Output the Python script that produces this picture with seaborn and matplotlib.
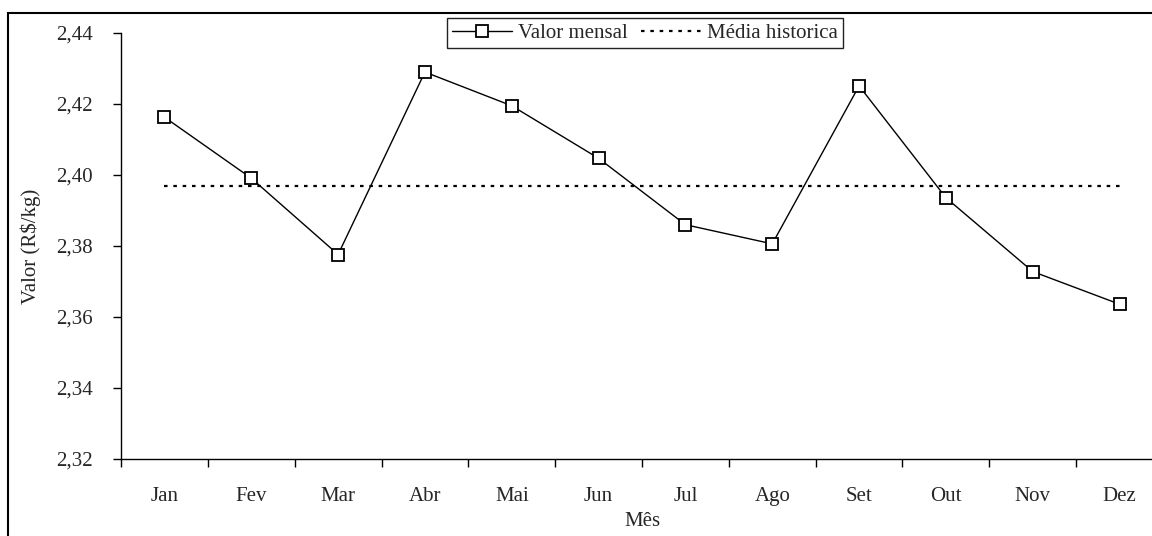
import numpy as np
import pandas as pd
import matplotlib
matplotlib.use("Agg")
import matplotlib.pyplot as plt
from matplotlib.patches import Rectangle
from matplotlib.ticker import FixedLocator, FuncFormatter
import seaborn as sns

# ---- data ----
meses = ["Jan", "Fev", "Mar", "Abr", "Mai", "Jun", "Jul", "Ago", "Set", "Out", "Nov", "Dez"]
valor_mensal = [2.4163, 2.3991, 2.3776, 2.4290, 2.4195, 2.4047, 2.3860, 2.3806,
                2.4251, 2.3936, 2.3728, 2.3636]
media_historica = 2.3969
y_ticks = [2.32, 2.34, 2.36, 2.38, 2.40, 2.42, 2.44]

sns.set_style("ticks")
plt.rcParams["font.family"] = ["Liberation Serif", "DejaVu Serif"]
plt.rcParams["font.size"] = 15

W, H = 1152, 536
fig = plt.figure(figsize=(W / 100, H / 100), dpi=100)
ax = fig.add_axes([121 / W, 1 - 459 / H, (1163 - 121) / W, (459 - 33) / H])

pos = np.arange(len(meses))
df = pd.DataFrame({"pos": pos, "valor": valor_mensal,
                   "media": [media_historica] * len(meses)})

sns.lineplot(data=df, x="pos", y="valor", ax=ax, color="black", lw=1.0,
             marker="s", markersize=8, markerfacecolor="white",
             markeredgecolor="black", markeredgewidth=1.3,
             label="Valor mensal")
sns.lineplot(data=df, x="pos", y="media", ax=ax, color="black", lw=1.6,
             linestyle=(0, (1.6, 2.6)), label="Média historica")

ax.set_ylim(2.32, 2.44)
ax.set_xlim(-0.5, len(meses) - 0.5)
ax.set_yticks(y_ticks)
ax.yaxis.set_major_formatter(FuncFormatter(lambda v, p: f"{v:.2f}".replace(".", ",")))

# ticks at category boundaries, labels at category centres
ax.xaxis.set_major_locator(FixedLocator(np.arange(-0.5, len(meses), 1.0)))
ax.xaxis.set_major_formatter(FuncFormatter(lambda v, p: ""))
ax.xaxis.set_minor_locator(FixedLocator(pos))
ax.set_xticks(pos, labels=meses, minor=True)
ax.tick_params(axis="x", which="major", length=6, width=1, direction="out", color="black")
ax.tick_params(axis="x", which="minor", length=0, pad=20, labelsize=15)
ax.tick_params(axis="y", length=6, width=1, direction="out", pad=14, labelsize=15, color="black")

for s in ["top", "right"]:
    ax.spines[s].set_visible(False)
for s in ["left", "bottom"]:
    ax.spines[s].set_color("black")
    ax.spines[s].set_linewidth(1.0)

ax.set_xlabel("Mês", fontsize=15)
ax.set_ylabel("Valor (R$/kg)", fontsize=15)
ax.xaxis.set_label_coords(0.5, -0.124)
ax.yaxis.set_label_coords(-0.077, 0.5)

leg = ax.legend(ncol=2, loc="upper center", bbox_to_anchor=(645 / W, 1 - 18 / H),
                bbox_transform=fig.transFigure, frameon=True, fancybox=False,
                edgecolor="#222222", framealpha=1, fontsize=15, handlelength=2.9,
                handletextpad=0.3, columnspacing=0.6, borderpad=0.25,
                borderaxespad=0, numpoints=1)
leg.get_frame().set_linewidth(1.0)

fig.patches.append(Rectangle((8 / W, -0.1), 1.2, (1 - 13 / H) + 0.1,
                             transform=fig.transFigure, fill=False,
                             lw=1.5, ec="black"))

fig.savefig("out.png", dpi=100)
